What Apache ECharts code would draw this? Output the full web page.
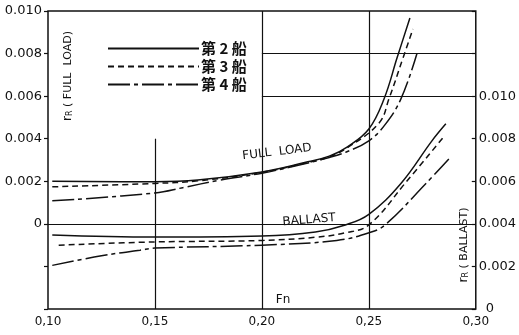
<!DOCTYPE html>
<html>
<head>
<meta charset="utf-8">
<script src="https://cdn.jsdelivr.net/npm/echarts@6/dist/echarts.min.js"></script>
<style>
  html, body { margin: 0; padding: 0; background: #fff; }
  #chart { width: 519px; height: 335px; }
</style>
</head>
<body>
<div id="chart"></div>
<script>
// Residual resistance coefficient r_R against Froude number Fn
const shipNames = ['第 2 船', '第 3 船', '第 4 船'];

const fnTicks = [0.10, 0.15, 0.20, 0.25, 0.30];

// Full load condition [Fn, r_R] (left axis)
const fullLoadShip2 = [[0.102, 0.00200], [0.15, 0.00198], [0.17, 0.00206], [0.20, 0.00244], [0.22, 0.00288], [0.2315, 0.00318], [0.24, 0.00362], [0.25, 0.00446], [0.2571, 0.00587], [0.2632, 0.00780], [0.2692, 0.00967]];
const fullLoadShip3 = [[0.102, 0.00174], [0.15, 0.00190], [0.17, 0.00202], [0.20, 0.00242], [0.22, 0.00285], [0.2315, 0.00315], [0.24, 0.00358], [0.2548, 0.00474], [0.2594, 0.00587], [0.266, 0.00780], [0.2706, 0.00915]];
const fullLoadShip4 = [[0.102, 0.00108], [0.15, 0.00145], [0.163, 0.00170], [0.18, 0.00205], [0.20, 0.00238], [0.22, 0.00282], [0.2315, 0.00312], [0.24, 0.00340], [0.25, 0.00390], [0.2575, 0.00465], [0.265, 0.00587], [0.2725, 0.00800]];

// Ballast condition [Fn, r_R] (right axis)
const ballastShip2 = [[0.102, 0.00348], [0.15, 0.00338], [0.20, 0.00343], [0.225, 0.00362], [0.239, 0.00395], [0.25, 0.00445], [0.265, 0.00590], [0.2795, 0.00790], [0.286, 0.00870]];
const ballastShip3 = [[0.105, 0.00300], [0.15, 0.00315], [0.20, 0.00322], [0.225, 0.00337], [0.239, 0.00358], [0.25, 0.00395], [0.2669, 0.00590], [0.2851, 0.00810]];
const ballastShip4 = [[0.102, 0.00205], [0.125, 0.00250], [0.143, 0.00276], [0.15, 0.00286], [0.20, 0.00300], [0.235, 0.00322], [0.25, 0.00358], [0.2576, 0.00395], [0.2767, 0.00590], [0.2874, 0.00705]];

const lineTypes = ['solid', [6, 4], [22, 4, 4, 4]];
const ink = '#111';

const chart = echarts.init(document.getElementById('chart'), null, { renderer: 'canvas' });

function curve(name, data, idx, yIndex) {
  return {
    name: name,
    type: 'line',
    yAxisIndex: yIndex,
    data: data,
    symbol: 'none',
    showSymbol: false,
    smooth: 0.4,
    lineStyle: { color: ink, width: 1.5, type: lineTypes[idx] },
    itemStyle: { color: ink },
    z: 3
  };
}

const gridLine = { color: ink, width: 1.2, type: 'solid' };

const option = {
  animation: false,
  backgroundColor: '#fff',
  grid: { left: 48, right: 43, top: 11, bottom: 26, show: true, borderColor: ink, borderWidth: 1.5, backgroundColor: 'transparent' },
  legend: {
    data: shipNames,
    orient: 'vertical',
    left: 102,
    top: 36,
    itemWidth: 91,
    itemHeight: 14,
    itemGap: 3,
    itemStyle: { opacity: 0 },
    textStyle: { fontFamily: 'Noto Sans CJK JP', fontWeight: 'bold', fontSize: 15, color: ink, padding: [0, 0, 0, -3] }
  },
  xAxis: {
    type: 'value',
    min: 0.10, max: 0.30, interval: 0.05,
    axisLine: { show: false },
    axisTick: { show: false },
    splitLine: { show: false },
    axisLabel: {
      margin: 7,
      fontFamily: 'DejaVu Sans', fontSize: 12, color: ink,
      formatter: v => v.toFixed(2).replace('.', ',')
    }
  },
  yAxis: [
    {
      type: 'value', position: 'left',
      min: -0.004, max: 0.010, interval: 0.002,
      axisLine: { show: false },
      axisTick: { show: true, length: 4, lineStyle: { color: ink, width: 1.2 } },
      splitLine: { show: false },
      axisLabel: {
        margin: 6,
        fontFamily: 'DejaVu Sans', fontSize: 13, color: ink,
        formatter: v => (v < -1e-9 ? '' : (Math.abs(v) < 1e-9 ? '0' : v.toFixed(3)))
      }
    },
    {
      type: 'value', position: 'right',
      min: 0, max: 0.014, interval: 0.002,
      axisLine: { show: false },
      axisTick: { show: true, inside: true, length: 4, lineStyle: { color: ink, width: 1.2 } },
      splitLine: { show: false },
      axisLabel: {
        margin: 3,
        fontFamily: 'DejaVu Sans', fontSize: 13, color: ink,
        formatter: v => (v > 0.0101 ? '' : (Math.abs(v) < 1e-9 ? '{z|0}' : v.toFixed(3))),
        rich: { z: { fontFamily: 'DejaVu Sans', fontSize: 13, color: ink, padding: [0, 0, 0, 7] } }
      }
    }
  ],
  series: [
    curve(shipNames[0], fullLoadShip2, 0, 0),
    curve(shipNames[1], fullLoadShip3, 1, 0),
    curve(shipNames[2], fullLoadShip4, 2, 0),
    curve(shipNames[0], ballastShip2, 0, 1),
    curve(shipNames[1], ballastShip3, 1, 1),
    curve(shipNames[2], ballastShip4, 2, 1),
    {
      // reference lines of the chart frame
      name: 'frame',
      type: 'line',
      yAxisIndex: 0,
      data: [],
      markLine: {
        silent: true,
        symbol: 'none',
        label: { show: false },
        lineStyle: gridLine,
        data: [
          { yAxis: 0.004 }, { yAxis: 0.002 }, { yAxis: 0 }, { yAxis: -0.002 },
          { xAxis: 0.20 }, { xAxis: 0.25 },
          [{ coord: [0.20, 0.008] }, { coord: [0.30, 0.008] }],
          [{ coord: [0.20, 0.006] }, { coord: [0.30, 0.006] }],
          [{ coord: [0.15, -0.004] }, { coord: [0.15, 0.004] }]
        ]
      }
    }
  ],
  graphic: [
    {
      type: 'text', x: 68, y: 76, rotation: Math.PI / 2,
      style: {
        text: '{r|r}{s|R}{t| ( FULL  LOAD)}',
        align: 'center', verticalAlign: 'middle',
        rich: {
          r: { fontFamily: 'DejaVu Sans', fontSize: 12, fill: ink },
          s: { fontFamily: 'DejaVu Sans', fontSize: 8, fill: ink, verticalAlign: 'bottom' },
          t: { fontFamily: 'DejaVu Sans', fontSize: 11, fill: ink }
        }
      }
    },
    {
      type: 'text', x: 464, y: 245, rotation: Math.PI / 2,
      style: {
        text: '{r|r}{s|R}{t| ( BALLAST)}',
        align: 'center', verticalAlign: 'middle',
        rich: {
          r: { fontFamily: 'DejaVu Sans', fontSize: 12, fill: ink },
          s: { fontFamily: 'DejaVu Sans', fontSize: 8, fill: ink, verticalAlign: 'bottom' },
          t: { fontFamily: 'DejaVu Sans', fontSize: 11, fill: ink }
        }
      }
    },
    {
      type: 'text', x: 277, y: 152, rotation: 0.12,
      style: { text: 'FULL  LOAD', fontFamily: 'DejaVu Sans', fontSize: 12, fill: ink, align: 'center', verticalAlign: 'middle' }
    },
    {
      type: 'text', x: 309, y: 220, rotation: 0.08,
      style: { text: 'BALLAST', fontFamily: 'DejaVu Sans', fontSize: 12, fill: ink, align: 'center', verticalAlign: 'middle' }
    },
    {
      type: 'text', x: 283, y: 300,
      style: { text: 'Fn', fontFamily: 'DejaVu Sans', fontSize: 12, fill: ink, align: 'center', verticalAlign: 'middle' }
    }
  ]
};

chart.setOption(option);
</script>
</body>
</html>
